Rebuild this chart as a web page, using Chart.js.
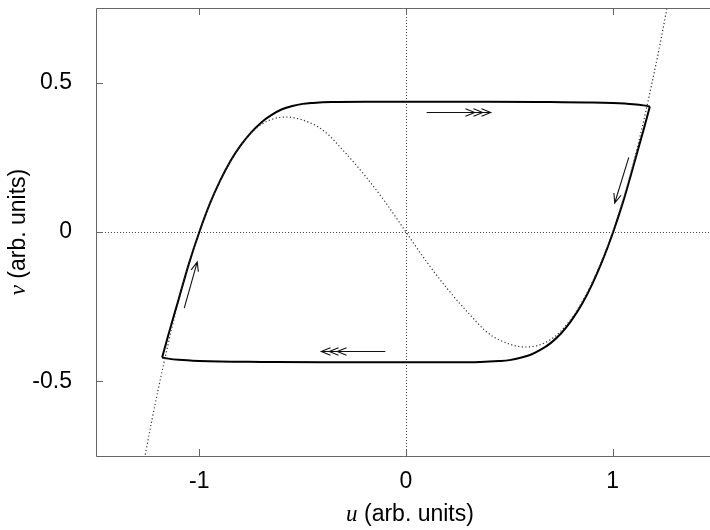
<!DOCTYPE html>
<html>
<head>
<meta charset="utf-8">
<script src="https://cdn.jsdelivr.net/npm/chart.js@4.4.1/dist/chart.umd.min.js"></script>
<style>
html, body { margin: 0; padding: 0; background: #fff; overflow: hidden; }
</style>
</head>
<body>
<canvas id="c" width="710" height="530"></canvas>
<script>
// tick labels
var xTicks = [-1, 0, 1];
var yTicks = [-0.5, 0, 0.5];

// cubic nullcline (dotted)
var nullU = [-1.3, -1.26, -1.2, -1.1, -1.0, -0.9, -0.8, -0.7, -0.58, -0.5, -0.4, -0.3, -0.2, -0.1, 0, 0.1, 0.2, 0.3, 0.4, 0.5, 0.58, 0.7, 0.8, 0.9, 1.0, 1.1, 1.2, 1.26, 1.3];
var nullV = [-0.90, -0.74, -0.53, -0.23, 0, 0.17, 0.29, 0.36, 0.385, 0.375, 0.34, 0.27, 0.19, 0.10, 0, -0.10, -0.19, -0.27, -0.34, -0.375, -0.385, -0.36, -0.29, -0.17, 0, 0.23, 0.53, 0.74, 0.90];

// limit cycle, upper half (left branch + top plateau)
var upperU = [-1.18, -1.15, -1.1, -1.05, -1.0, -0.95, -0.9, -0.85, -0.8, -0.75, -0.7, -0.65, -0.6, -0.55, -0.5, -0.45, -0.36, -0.2, 0.1, 0.4, 0.7, 0.9, 1.0, 1.1, 1.15, 1.18];
var upperV = [-0.42, -0.345, -0.225, -0.105, 0, 0.093, 0.171, 0.237, 0.29, 0.333, 0.367, 0.392, 0.411, 0.422, 0.429, 0.432, 0.435, 0.436, 0.436, 0.436, 0.435, 0.434, 0.432, 0.428, 0.424, 0.42];

// limit cycle, lower half (bottom plateau + right branch)
var lowerU = [-1.18, -1.15, -1.1, -1.0, -0.9, -0.7, -0.4, -0.1, 0.2, 0.36, 0.45, 0.5, 0.55, 0.6, 0.65, 0.7, 0.75, 0.8, 0.85, 0.9, 0.95, 1.0, 1.05, 1.1, 1.15, 1.18];
var lowerV = [-0.42, -0.424, -0.428, -0.432, -0.434, -0.435, -0.436, -0.436, -0.436, -0.435, -0.432, -0.429, -0.422, -0.412, -0.395, -0.372, -0.34, -0.297, -0.243, -0.176, -0.097, -0.005, 0.10, 0.22, 0.343, 0.42];

// direction arrows: tail u,v -> tip u,v, number of heads
var arrowFrom = [[0.10, 0.40], [-0.10, -0.40], [1.078, 0.25], [-1.073, -0.255]];
var arrowTo = [[0.41, 0.40], [-0.41, -0.40], [1.01, 0.097], [-1.01, -0.10]];
var arrowHeads = [3, 3, 1, 1];

function pts(us, vs) {
    return us.map(function (u, i) { return { x: u, y: vs[i] }; });
}

var sans = '"Liberation Sans", Arial, Helvetica, sans-serif';
var serif = 'italic 23px "Liberation Serif", "Times New Roman", serif';

var extras = {
    id: 'extras',
    beforeDatasetsDraw: function (chart) {
        var c = chart.ctx, a = chart.chartArea;
        var sx = chart.scales.x, sy = chart.scales.y;
        var x0 = Math.round(sx.getPixelForValue(0)) + 0.5;
        var y0 = Math.round(sy.getPixelForValue(0)) + 0.5;
        c.save();
        c.strokeStyle = '#444';
        c.lineWidth = 1;
        c.setLineDash([1, 2]);
        c.beginPath();
        c.moveTo(a.left, y0); c.lineTo(a.right, y0);
        c.moveTo(x0, a.top); c.lineTo(x0, a.bottom);
        c.stroke();
        c.restore();
    },
    afterDatasetsDraw: function (chart) {
        var c = chart.ctx, a = chart.chartArea;
        var sx = chart.scales.x, sy = chart.scales.y;
        c.save();
        // frame (right side is off the picture) and inward ticks
        c.strokeStyle = '#666';
        c.lineWidth = 1;
        c.beginPath();
        c.moveTo(a.right + 5, a.top + 0.5);
        c.lineTo(a.left + 0.5, a.top + 0.5);
        c.lineTo(a.left + 0.5, a.bottom + 0.5);
        c.lineTo(a.right + 5, a.bottom + 0.5);
        xTicks.forEach(function (t) {
            var px = Math.round(sx.getPixelForValue(t)) + 0.5;
            c.moveTo(px, a.bottom); c.lineTo(px, a.bottom - 7);
            c.moveTo(px, a.top); c.lineTo(px, a.top + 7);
        });
        yTicks.forEach(function (t) {
            var py = Math.round(sy.getPixelForValue(t)) + 0.5;
            c.moveTo(a.left, py); c.lineTo(a.left + 7, py);
        });
        c.stroke();

        // arrows
        c.strokeStyle = '#111';
        c.lineWidth = 1.1;
        for (var i = 0; i < arrowFrom.length; i++) {
            var x1 = sx.getPixelForValue(arrowFrom[i][0]), y1 = sy.getPixelForValue(arrowFrom[i][1]);
            var x2 = sx.getPixelForValue(arrowTo[i][0]), y2 = sy.getPixelForValue(arrowTo[i][1]);
            var ang = Math.atan2(y2 - y1, x2 - x1);
            c.beginPath();
            c.moveTo(x1, y1); c.lineTo(x2, y2);
            for (var h = 0; h < arrowHeads[i]; h++) {
                var tx = x2 - Math.cos(ang) * h * 8, ty = y2 - Math.sin(ang) * h * 8;
                c.moveTo(tx - Math.cos(ang - 0.38) * 10, ty - Math.sin(ang - 0.38) * 10);
                c.lineTo(tx, ty);
                c.lineTo(tx - Math.cos(ang + 0.38) * 10, ty - Math.sin(ang + 0.38) * 10);
            }
            c.stroke();
        }

        // axis titles, italic serif variable + sans text
        c.fillStyle = '#000';
        c.textBaseline = 'middle';
        c.textAlign = 'left';
        var rest = ' (arb. units)';
        c.font = serif;
        var wu = c.measureText('u').width;
        c.font = '23px ' + sans;
        var wr = c.measureText(rest).width;
        var left = sx.getPixelForValue(0) + 4 - (wu + wr) / 2;
        c.font = serif;
        c.fillText('u', left, 515);
        c.font = '23px ' + sans;
        c.fillText(rest, left + wu, 515);

        c.translate(19, (a.top + a.bottom) / 2);
        c.rotate(-Math.PI / 2);
        c.font = serif;
        var wv = c.measureText('v').width;
        left = -(wv + wr) / 2;
        c.fillText('v', left, 0);
        c.font = '23px ' + sans;
        c.fillText(rest, left + wv, 0);
        c.restore();
    }
};

function noPad(s) {
    s.paddingTop = 0; s.paddingBottom = 0;
    s.paddingLeft = 0; s.paddingRight = 0;
}

var chart = new Chart(document.getElementById('c'), {
    type: 'scatter',
    data: {
        datasets: [{
            data: pts(nullU, nullV),
            showLine: true,
            borderColor: '#333',
            borderWidth: 1.2,
            borderDash: [1.2, 2.4],
            pointRadius: 0,
            cubicInterpolationMode: 'monotone'
        }, {
            data: pts(upperU, upperV),
            showLine: true,
            borderColor: '#000',
            borderWidth: 2,
            pointRadius: 0,
            cubicInterpolationMode: 'monotone'
        }, {
            data: pts(lowerU, lowerV),
            showLine: true,
            borderColor: '#000',
            borderWidth: 2,
            pointRadius: 0,
            cubicInterpolationMode: 'monotone'
        }]
    },
    options: {
        responsive: false,
        animation: false,
        layout: { padding: { top: 8, right: 0, left: 0, bottom: 0 } },
        plugins: { legend: { display: false }, tooltip: { enabled: false } },
        scales: {
            x: {
                type: 'linear',
                min: -1.5, max: 1.471,
                grid: { display: false },
                border: { display: false },
                afterBuildTicks: function (s) { s.ticks = xTicks.map(function (v) { return { value: v }; }); },
                afterFit: function (s) { s.height = 74; noPad(s); },
                ticks: { color: '#000', padding: 4, maxRotation: 0, font: { size: 23, family: sans } }
            },
            y: {
                type: 'linear',
                min: -0.75, max: 0.75,
                grid: { display: false },
                border: { display: false },
                afterBuildTicks: function (s) { s.ticks = yTicks.map(function (v) { return { value: v }; }); },
                afterFit: function (s) { s.width = 96; noPad(s); },
                ticks: { color: '#000', padding: 16, font: { size: 23, family: sans } }
            }
        }
    },
    plugins: [extras]
});
</script>
</body>
</html>
